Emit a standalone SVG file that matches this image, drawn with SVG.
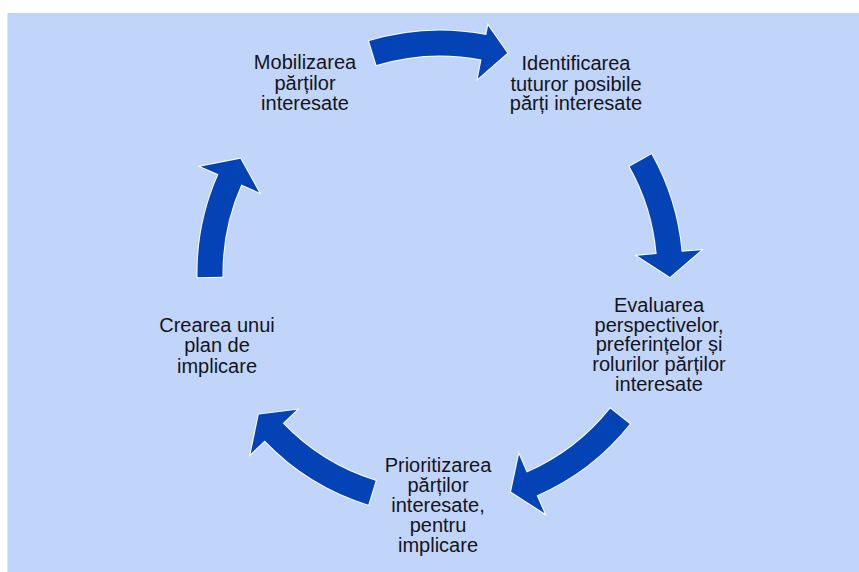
<svg xmlns="http://www.w3.org/2000/svg" width="859" height="572" viewBox="0 0 859 572">
  <style>
    .bg { fill: #C1D5FB; }
    .arrow { fill: #0443B5; stroke: #FFFFFF; stroke-width: 2; stroke-linejoin: miter; paint-order: stroke; }
    .label { font-family: "Liberation Sans", Arial, sans-serif; font-size: 20px; fill: #141420; text-anchor: middle; }
  </style>
  <rect width="859" height="572" fill="#FFFFFF"/>
  <rect class="bg" x="7.5" y="13" width="851.5" height="559"/>

  <!-- curved block arrows around the cycle (centre 440,273, radius 230) -->
  <g id="connectors">
    <path class="arrow" d="M369.10,41.10 A242.5,242.5 0 0 1 486.27,34.95 L488.08,25.63 L507.25,53.05 L477.78,78.64 L481.50,59.50 A217.5,217.5 0 0 0 376.41,65.00 Z"/>
    <path class="arrow" d="M651.48,154.33 A242.5,242.5 0 0 1 681.58,251.86 L701.00,250.16 L669.97,277.01 L637.25,255.74 L656.67,254.04 A217.5,217.5 0 0 0 629.68,166.56 Z"/>
    <path class="arrow" d="M629.78,423.96 A242.5,242.5 0 0 1 536.70,495.39 L544.47,513.27 L511.07,491.74 L518.95,454.58 L526.73,472.46 A217.5,217.5 0 0 0 610.22,408.40 Z"/>
    <path class="arrow" d="M368.29,504.66 A242.5,242.5 0 0 1 264.68,440.54 L250.58,454.01 L258.76,414.60 L296.85,409.79 L282.75,423.27 A217.5,217.5 0 0 0 375.68,480.77 Z"/>
    <path class="arrow" d="M197.54,277.23 A242.5,242.5 0 0 1 218.46,174.37 L200.65,166.43 L240.41,158.70 L259.12,192.47 L241.30,184.53 A217.5,217.5 0 0 0 222.53,276.80 Z"/>
  </g>

  <g id="node-mobilizarea">
    <text class="label" x="305" y="69">Mobilizarea</text>
    <text class="label" x="305" y="89.5">părților</text>
    <text class="label" x="305" y="110">interesate</text>
  </g>

  <g id="node-identificarea">
    <text class="label" x="576" y="70">Identificarea</text>
    <text class="label" x="576" y="90.5">tuturor posibile</text>
    <text class="label" x="576" y="110">părți interesate</text>
  </g>

  <g id="node-evaluarea">
    <text class="label" x="659" y="311.5">Evaluarea</text>
    <text class="label" x="659" y="331.5">perspectivelor,</text>
    <text class="label" x="659" y="351">preferințelor și</text>
    <text class="label" x="659" y="370.5">rolurilor părților</text>
    <text class="label" x="659" y="390.5">interesate</text>
  </g>

  <g id="node-prioritizarea">
    <text class="label" x="438" y="472">Prioritizarea</text>
    <text class="label" x="438" y="492">părților</text>
    <text class="label" x="438" y="512">interesate,</text>
    <text class="label" x="438" y="532">pentru</text>
    <text class="label" x="438" y="552">implicare</text>
  </g>

  <g id="node-crearea">
    <text class="label" x="217" y="331.5">Crearea unui</text>
    <text class="label" x="217" y="352">plan de</text>
    <text class="label" x="217" y="372.5">implicare</text>
  </g>
</svg>
